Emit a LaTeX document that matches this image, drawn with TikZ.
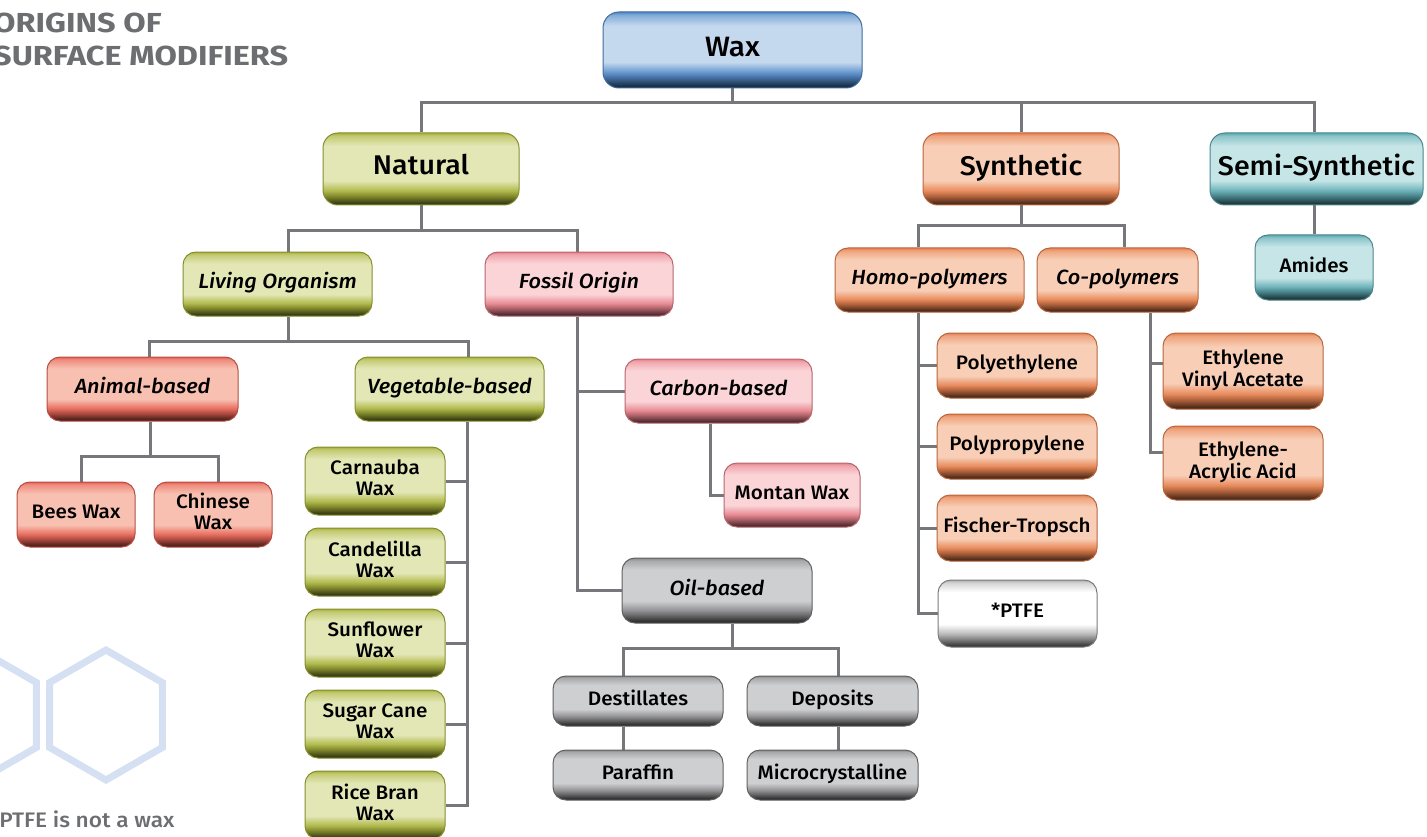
\documentclass[tikz,border=0pt]{standalone}
\usepackage{fontspec}
\setmainfont{Fira Sans}[FakeStretch=1.06, BoldFont={Fira Sans Medium}, BoldItalicFont={Fira Sans Medium Italic}]
\newfontfamily\titlefont{Fira Sans}[FakeStretch=1.18]
\newfontfamily\notefont{Fira Sans}[FakeStretch=1.08, BoldFont={Fira Sans Medium}]
\usetikzlibrary{backgrounds}

\definecolor{lineGray}{RGB}{118,119,123}
\definecolor{titleGray}{RGB}{109,110,113}
\definecolor{hexBlue}{RGB}{213,225,243}
\definecolor{bBase}{RGB}{80,135,198}
\definecolor{bLight}{RGB}{196,216,238}
\definecolor{gBase}{RGB}{168,178,58}
\definecolor{gLight}{RGB}{227,231,182}
\definecolor{sBase}{RGB}{230,98,84}
\definecolor{sLight}{RGB}{248,192,177}
\definecolor{pBase}{RGB}{230,128,138}
\definecolor{pLight}{RGB}{250,212,215}
\definecolor{oBase}{RGB}{230,128,78}
\definecolor{oLight}{RGB}{248,206,182}
\definecolor{tBase}{RGB}{92,168,176}
\definecolor{tLight}{RGB}{197,229,231}
\definecolor{kBase}{RGB}{138,138,140}
\definecolor{kLight}{RGB}{206,207,209}
\definecolor{wBase}{RGB}{175,175,175}
\definecolor{wLight}{RGB}{255,255,255}

\newcommand\mkshade[3]{%
\pgfdeclareverticalshading{#1}{100bp}{%
color(0bp)=(#2!25!black); color(25bp)=(#2!25!black);
color(27bp)=(#2!40!black); color(31bp)=(#2!75!black);
color(35bp)=(#2!85!#3); color(42bp)=(#3); color(66bp)=(#3);
color(73bp)=(#2!55!#3); color(75bp)=(#2); color(100bp)=(#2)}}
\mkshade{shB}{bBase}{bLight}
\mkshade{shG}{gBase}{gLight}
\mkshade{shS}{sBase}{sLight}
\mkshade{shP}{pBase}{pLight}
\mkshade{shO}{oBase}{oLight}
\mkshade{shT}{tBase}{tLight}
\mkshade{shK}{kBase}{kLight}
\mkshade{shW}{wBase}{wLight}

\tikzset{
  conn/.style={draw=lineGray, line width=3pt, line join=miter},
  box/.style={rounded corners=13pt, line width=1pt, inner sep=0pt,
    font=\bfseries\fontsize{19.5}{21}\selectfont},
  topbox/.style={font=\bfseries\fontsize{27}{30}\selectfont, rounded corners=15pt},
  waxbox/.style={font=\bfseries\fontsize{28}{31}\selectfont, rounded corners=16pt},
  midbox/.style={font=\bfseries\itshape\fontsize{20.5}{22}\selectfont},
  blueb/.style={draw=bBase!80!black, shading=shB},
  greenb/.style={draw=gBase!80!black, shading=shG},
  salmonb/.style={draw=sBase!80!black, shading=shS},
  pinkb/.style={draw=pBase!80!black, shading=shP},
  orangeb/.style={draw=oBase!80!black, shading=shO},
  tealb/.style={draw=tBase!80!black, shading=shT},
  grayb/.style={draw=kBase!70!black, shading=shK},
  whiteb/.style={draw=wBase!70!black, shading=shW},
  hexline/.style={draw=hexBlue, line width=7pt, line join=miter},
}

\newcommand\bx[7]{%
  \node[box,#1,minimum width={#5-#3},minimum height={#6-#4}] (#2)
    at ({(#3+#5)/2},{(#4+#6)/2})
    {\raisebox{2pt}{\begin{tabular}{@{}c@{}}#7\end{tabular}}};}

\begin{document}
\begin{tikzpicture}[x=1pt,y=-1pt]
\useasboundingbox (0,0) rectangle (1427,837);

% decorative hexagons
\draw[hexline] (106,715) +(30:65) -- +(90:65) -- +(150:65) -- +(210:65) -- +(270:65) -- +(330:65) -- cycle;
\draw[hexline] (-20,715) +(30:65) -- +(90:65) -- +(150:65) -- +(210:65) -- +(270:65) -- +(330:65) -- cycle;

% title and note
\node[anchor=north west, align=left, text=titleGray, inner sep=0pt,
  font=\titlefont\bfseries\fontsize{27.5}{33}\selectfont] (title) at (-7,13) {ORIGINS OF\\SURFACE MODIFIERS};
\node[anchor=base west, text=titleGray, inner sep=0pt,
  font=\notefont\bfseries\fontsize{21}{24}\selectfont] (note) at (-11,827) {*PTFE is not a wax};

% boxes
\bx{waxbox,blueb}{wax}{603}{12}{862}{88}{Wax}
\bx{topbox,greenb}{natural}{323}{133}{519}{205}{Natural}
\bx{topbox,orangeb}{synthetic}{923}{133}{1119}{205}{Synthetic}
\bx{topbox,tealb}{semi}{1210}{133}{1423}{205}{Semi-Synthetic}

\bx{midbox,greenb}{living}{183}{252}{372}{316}{Living Organism}
\bx{midbox,pinkb}{fossil}{485}{252}{673}{316}{Fossil Origin}
\bx{midbox,salmonb}{animal}{47}{357}{238}{421}{Animal-based}
\bx{midbox,greenb}{veg}{355}{357}{544}{421}{Vegetable-based}
\bx{midbox,pinkb}{carbon}{625}{359}{812}{423}{Carbon-based}
\bx{pinkb}{montan}{724}{463}{860}{527}{Montan Wax}
\bx{midbox,grayb}{oil}{622}{558}{812}{623}{Oil-based}
\bx{grayb}{destill}{553}{676}{723}{726}{Destillates}
\bx{grayb}{deposits}{747}{676}{918}{726}{Deposits}
\bx{grayb}{paraffin}{553}{750}{723}{800}{Paraffin}
\bx{grayb}{micro}{747}{750}{918}{800}{Microcrystalline}

\bx{salmonb}{bees}{17}{482}{135}{547}{Bees Wax}
\bx{salmonb}{chinese}{154}{482}{272}{547}{Chinese\\Wax}

\bx{greenb}{carnauba}{305}{447}{445}{515}{Carnauba\\Wax}
\bx{greenb}{candelilla}{305}{528}{445}{596}{Candelilla\\Wax}
\bx{greenb}{sunflower}{305}{609}{445}{677}{Sunflower\\Wax}
\bx{greenb}{sugarcane}{305}{690}{445}{758}{Sugar Cane\\Wax}
\bx{greenb}{ricebran}{305}{771}{445}{839}{Rice Bran\\Wax}

\bx{midbox,orangeb}{homo}{835}{248}{1024}{312}{Homo-polymers}
\bx{midbox,orangeb}{co}{1037}{248}{1198}{312}{Co-polymers}
\bx{orangeb}{polyeth}{937}{333}{1097}{398}{Polyethylene}
\bx{orangeb}{polyprop}{937}{414}{1097}{479}{Polypropylene}
\bx{orangeb}{fischer}{937}{495}{1097}{561}{Fischer-Tropsch}
\bx{whiteb}{ptfe}{938}{580}{1097}{647}{*PTFE}
\bx{orangeb}{eva}{1163}{333}{1323}{409}{Ethylene\\Vinyl Acetate}
\bx{orangeb}{eaa}{1163}{426}{1323}{500}{Ethylene-\\Acrylic Acid}
\bx{tealb}{amides}{1255}{235}{1373}{300}{Amides}

% connectors
\begin{pgfonlayer}{background}
\draw[conn] (wax.south) -- (wax.south |- 0,103);
\draw[conn] (natural.north) |- (1314,103) -- (1314,0 |- semi.north);
\draw[conn] (synthetic.north) -- (synthetic.north |- 0,103);

\draw[conn] (natural.south) -- (natural.south |- 0,231);
\draw[conn] (288,0 |- living.north) |- (577,231) -- (577,0 |- fossil.north);

\draw[conn] (288,0 |- living.south) -- (288,341);
\draw[conn] (149,0 |- animal.north) |- (468,341) -- (468,0 |- veg.north);

\draw[conn] (150,0 |- animal.south) -- (150,456);
\draw[conn] (81,0 |- bees.north) |- (218,456) -- (218,0 |- chinese.north);

\draw[conn] (467,0 |- veg.south) -- (467,0 |- ricebran.east) -- (ricebran.east);
\foreach \n in {carnauba,candelilla,sunflower,sugarcane}
  \draw[conn] (\n.east) -- (467,0 |- \n.east);

\draw[conn] (577,0 |- fossil.south) |- (oil.west);
\draw[conn] (577,0 |- carbon.west) -- (carbon.west);
\draw[conn] (710,0 |- carbon.south) |- (montan.west);

\draw[conn] (732,0 |- oil.south) -- (732,648);
\draw[conn] (623,0 |- destill.north) |- (838,648) -- (838,0 |- deposits.north);
\draw[conn] (623,0 |- destill.south) -- (623,0 |- paraffin.north);
\draw[conn] (838,0 |- deposits.south) -- (838,0 |- micro.north);

\draw[conn] (synthetic.south) -- (synthetic.south |- 0,226);
\draw[conn] (918,0 |- homo.north) |- (1124,226) -- (1124,0 |- co.north);

\draw[conn] (918,0 |- homo.south) |- (ptfe.west);
\foreach \n in {polyeth,polyprop,fischer}
  \draw[conn] (918,0 |- \n.west) -- (\n.west);

\draw[conn] (1150,0 |- co.south) |- (eaa.west |- 0,452);
\draw[conn] (1150,363) -- (eva.west |- 0,363);

\draw[conn] (1314,0 |- semi.south) -- (1314,0 |- amides.north);
\end{pgfonlayer}
\end{tikzpicture}
\end{document}
